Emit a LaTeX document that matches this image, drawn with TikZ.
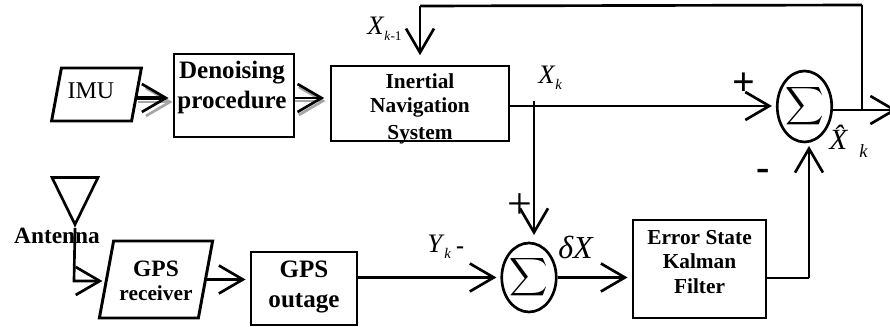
\documentclass[tikz,border=0pt]{standalone}
\usepackage{fontspec}
\setmainfont{Liberation Serif}
\usetikzlibrary{shapes.geometric,arrows.meta}
\newcommand{\lowsub}[1]{\raisebox{-.5ex}{\fontsize{11}{11}\selectfont #1}}
\newcommand{\sumsign}{\scalebox{2}{$\displaystyle\sum$}}
\tikzset{>={Straight Barb[length=18pt,width=21pt,line width=2pt]}}
\tikzset{
  size/.style 2 args={minimum width=#1*0.75pt,minimum height=#2*0.75pt},
  block/.style={draw,line width=2.2pt,inner sep=0pt},
  slanted/.style={block,transform shape,xslant=0.185},
  adder/.style={draw,ellipse,line width=2pt,inner sep=0pt},
  line/.style={line width=2pt},
  blabel/.style={font=\bfseries\fontsize{16}{19}\selectfont,align=center,inner sep=0pt},
  sym/.style={font=\fontsize{20}{20}\selectfont,inner sep=0pt},
}
\begin{document}
\begin{tikzpicture}[x=0.75pt,y=-0.75pt]
\useasboundingbox (0,0) rectangle (890,327);
\node[slanted,size={80}{53}] (imu) at (96.5,94.5) {};
\node[block,size={120}{83}] (dn) at (234,95.5) {};
\node[block,size={178}{75}] (ins) at (420,103.5) {};
\node[adder,size={45}{71}] (sum1) at (804.5,106.5) {\sumsign};
\node[adder,size={46}{69}] (sum2) at (529,277.5) {\sumsign};
\node[block,size={133}{98}] (kf) at (699.5,269) {};
\node[block,size={106}{73}] (out) at (304,288.5) {};
\node[slanted,size={99}{77}] (rx) at (156,279.5) {};
\node[draw,line width=2pt,isosceles triangle,shape border rotate=-90,isosceles triangle stretches,inner sep=0pt,size={46}{47},anchor=apex] (ant) at (75,228) {};
\node[inner sep=0pt,font=\fontsize{18}{18}\selectfont] (imut) at (91,91) {IMU};
\node[blabel,font=\bfseries\fontsize{18.8}{22.5}\selectfont] (dnt) at (232,87) {Denoising\\procedure};
\node[blabel] (inst1) at (420,81) {Inertial};
\node[blabel] (inst2) at (420,107) {Navigation};
\node[blabel] (inst3) at (420,135) {System};
\node[blabel,font=\bfseries\fontsize{17.6}{19}\selectfont] (rxt1) at (156,269) {GPS};
\node[blabel] (rxt2) at (156,293) {receiver};
\node[blabel,font=\bfseries\fontsize{18.8}{22.5}\selectfont] (outt) at (304,287) {GPS\\outage};
\node[blabel] (kft1) at (699.5,238) {Error State};
\node[blabel] (kft2) at (699.5,261) {Kalman};
\node[blabel] (kft3) at (699.5,286) {Filter};
\node[blabel,font=\bfseries\fontsize{17.5}{19}\selectfont] (antt) at (57,236) {Antenna};
\node[sym,anchor=west] (xk1) at (367,29) {\textit{X}\lowsub{\fontsize{10}{10}\selectfont\textit{k}-1}};
\node[sym,anchor=west] (xk) at (538,78) {\textit{X}\lowsub{\textit{k}}};
\node[sym,anchor=west] (yk) at (427,247) {\textit{Y}\lowsub{\textit{k}}};
\node[sym,anchor=west,font=\fontsize{24}{24}\selectfont] (dx) at (558,247) {\textit{δX}};
\node[sym,anchor=base west,font=\fontsize{22}{22}\selectfont] (xh) at (829,150) {\textit{\^X}\hspace{1pt}\raisebox{-6pt}{\fontsize{14}{14}\selectfont\textit{k}}};
\node[inner sep=0pt,font=\bfseries\fontsize{30}{30}\selectfont] (p1) at (744,84) {+};
\node[inner sep=0pt,font=\fontsize{33}{33}\selectfont] (p2) at (520,206) {+};
\node[inner sep=0pt,font=\bfseries\fontsize{30}{30}\selectfont] (m1) at (763,175) {-};
\node[inner sep=0pt,font=\bfseries\fontsize{18}{18}\selectfont] (m2) at (460,250) {-};
\coordinate (jx) at (534,106);
\coordinate (jx0) at (534,101);
\coordinate (fb0) at (862,110);
\coordinate (fb1) at (862,5);
\coordinate (fb2) at (420,6);
\coordinate (outend) at (897,110);
\coordinate (kfc) at (809,278);
\coordinate (antb) at (74,281);
% grey shadows
\draw[line,->,gray!70,shift={(3,4)}] (imu.east |- 0,98) -- (dn.west |- 0,98);
\draw[line,->,gray!70,shift={(2,3)}] (dn.east |- 0,98) -- ([xshift=-3pt]ins.west |- 0,98);
\draw[line,->,line width=2.6pt,shorten >=3pt] (135,98) -- (dn.west |- 0,98);
\draw[line,->,shorten >=3pt] (dn.east |- 0,98) -- ([xshift=-1pt]ins.west |- 0,98);
\draw[line,->,shorten >=3pt] (ins.east |- jx) -- (sum1.west |- jx);
\draw[line] (jx0) -- (jx);
\draw[line,->,shorten >=5pt] (jx) -- (jx |- sum2.north);
\draw[line,->] (sum1.east |- outend) -- (outend);
\draw[line] (fb0) -- (fb1);
\draw[line] (fb1 -| fb0) -- (fb2);
\draw[line,->,shorten >=7pt] (fb2) -- (fb2 |- ins.north);
\draw[line,->,shorten >=3pt] (out.east |- sum2) -- (sum2.west);
\draw[line,->,shorten >=3pt] (sum2.east) -- (kf.west |- sum2);
\draw[line] (kf.east |- kfc) -- (kfc);
\draw[line,->,shorten >=2pt] (kfc) -- (kfc |- sum1.south);
\draw[line,->,shorten >=2pt] (ant.apex) -- (antb) -- (antb -| rx.west);
\draw[line,->,shorten >=3pt] (rx.east) -- (out.west |- rx);
\end{tikzpicture}
\end{document}
